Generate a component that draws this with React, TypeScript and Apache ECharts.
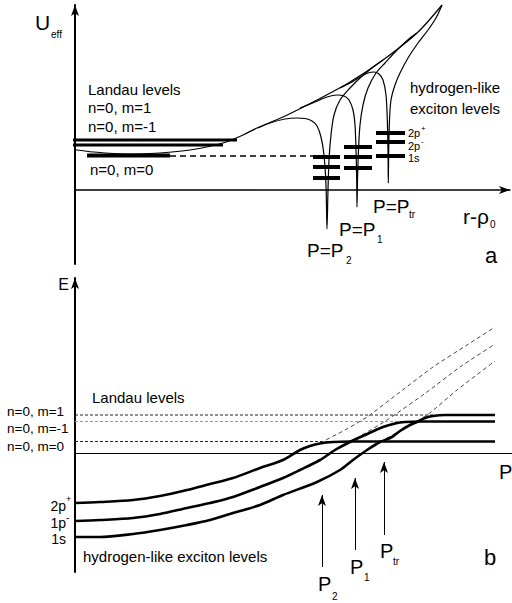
import React, { useEffect, useRef } from "react";
import * as echarts from "echarts";

type P = [number, number];

// ---------- Panel a : effective potential U_eff(r - rho0) ----------
const envelope: P[] = [
  [-5.5, 5.2], [-3.0, 4.6], [0.2, 4.0], [3.0, 3.7], [5.5, 3.6], [8.5, 3.7], [11.5, 4.0],
  [14.8, 4.7], [16.8, 5.5], [18.2, 6.2], [20.8, 7.3], [24.2, 9.0], [27.5, 10.8],
  [30.8, 13.0], [34.2, 15.7], [36.7, 18.5],
];
const curveP2: P[] = [
  [18.3, 6.2], [19.5, 6.7], [21.0, 7.1], [22.2, 7.2], [23.0, 7.15], [23.7, 6.9], [24.2, 6.4],
  [24.6, 5.3], [24.9, 3.5], [25.1, 0.5], [25.2, -3.9], [25.3, 0.0], [25.4, 3.0], [25.6, 5.5],
  [25.9, 7.5], [26.5, 9.0], [27.5, 10.2], [28.5, 11.2], [29.7, 12.2], [30.8, 13.0],
];
const curveP1: P[] = [
  [22.5, 8.2], [24.0, 8.8], [25.2, 9.3], [26.2, 9.5], [26.9, 9.4], [27.4, 9.0], [27.8, 8.0],
  [28.0, 6.5], [28.1, 4.0], [28.17, 1.0], [28.2, -1.7], [28.25, 1.0], [28.35, 4.0], [28.5, 6.5],
  [28.8, 8.5], [29.3, 10.2], [30.1, 11.7], [31.0, 12.7], [32.2, 14.0], [33.5, 15.2], [34.2, 15.7],
];
const curvePtr: P[] = [
  [26.5, 10.2], [27.5, 10.7], [28.5, 11.3], [29.3, 11.7], [29.9, 11.8], [30.4, 11.6], [30.8, 11.0],
  [31.1, 9.5], [31.23, 7.0], [31.3, 4.0], [31.33, 0.7], [31.37, 4.0], [31.45, 7.0], [31.6, 9.0],
  [32.0, 10.5], [32.5, 11.7], [33.3, 13.2], [34.3, 14.7], [35.3, 16.0], [36.1, 17.2], [36.7, 18.5],
];
// Landau levels (thick bars) : [level, from, to]
const landauBarsA: [number, number, number][] = [
  [5.0, -5.5, 16.2],
  [4.5, -4.0, 14.8],
  [3.45, 1.2, 9.5],
];
const landauDashA: P[] = [[9.5, 3.4], [23.8, 3.4]];
// exciton levels in each well: [x from, x to, levels]
const excitonWells: { x0: number; x1: number; levels: number[] }[] = [
  { x0: 23.8, x1: 26.5, levels: [3.3, 2.3, 1.2] },
  { x0: 26.9, x1: 29.7, levels: [4.3, 3.3, 2.2] },
  { x0: 30.1, x1: 33.0, levels: [5.7, 4.8, 3.4] },
];

// ---------- Panel b : energies E(P) ----------
const level2pPlus: P[] = [
  [0, -5.0], [2.5, -4.9], [5.8, -4.7], [8.5, -4.3], [11.2, -3.7], [13.5, -3.1], [15.8, -2.5],
  [18.5, -1.5], [20.8, -0.7], [22.5, 0.3], [23.5, 0.7], [24.5, 0.95], [25.8, 1.1], [27.5, 1.15],
  [42.0, 1.15],
];
const level1pMinus: P[] = [
  [0, -6.8], [2.5, -6.7], [5.8, -6.5], [8.5, -6.1], [11.2, -5.5], [13.5, -5.0], [15.8, -4.4],
  [18.5, -3.4], [20.8, -2.5], [22.5, -1.7], [24.5, -0.7], [26.0, 0.3], [27.5, 1.1], [29.0, 1.8],
  [30.8, 2.6], [32.0, 2.95], [33.0, 3.1], [34.5, 3.15], [42.0, 3.15],
];
const level1s: P[] = [
  [0, -8.4], [2.5, -8.4], [5.8, -8.1], [8.5, -7.7], [11.2, -7.2], [13.5, -6.7], [15.8, -6.0],
  [18.5, -5.2], [20.8, -4.2], [24.2, -2.9], [26.5, -1.7], [27.8, -0.7], [29.2, 0.3], [30.5, 1.1],
  [31.7, 1.6], [32.5, 2.2], [33.5, 2.8], [34.2, 3.1], [35.0, 3.5], [35.8, 3.7], [37.0, 3.8],
  [42.0, 3.8],
];
const diabatic1: P[] = [[24.5, 1.0], [27.0, 2.3], [29.2, 3.6], [32.5, 6.1], [35.8, 8.6], [39.2, 10.8], [42.0, 12.6]];
const diabatic2: P[] = [[27.5, 1.1], [31.2, 3.3], [35.2, 6.1], [38.5, 8.6], [42.0, 10.9]];
const diabatic3: P[] = [[30.5, 1.1], [35.2, 3.8], [38.2, 6.3], [42.0, 9.2]];
// Landau levels n=0: m=1, m=-1, m=0 : [level, extends to]
const landauB: [number, number][] = [[3.8, 36.0], [3.15, 34.5], [1.15, 27.0]];
// momentum markers P2, P1, Ptr : [P, from, to]
const momentumArrows: [number, number, number][] = [
  [24.7, -11.4, -4.2],
  [28.0, -9.7, -2.5],
  [30.9, -8.2, -0.9],
];

const FONT = "'Liberation Sans', Arial, Helvetica, sans-serif";

function line(data: P[], g: number, width: number, color = "#000", type: any = "solid", smooth: number | boolean = 0.3) {
  return {
    type: "line",
    data,
    xAxisIndex: g,
    yAxisIndex: g,
    showSymbol: false,
    symbol: "none",
    clip: false,
    silent: true,
    smooth,
    lineStyle: { width, color, type },
    z: 3,
  };
}

function T(text: string, x: number, y: number, size: number, align = "left") {
  return {
    type: "text",
    x,
    y,
    silent: true,
    style: {
      text,
      fontSize: size,
      fontFamily: FONT,
      fill: "#000",
      align,
      verticalAlign: "middle",
      textAlign: align,
      textVerticalAlign: "middle",
    },
  };
}

function buildOption() {
  const series: any[] = [];
  // panel a
  series.push(line(envelope, 0, 1.2));
  series.push(line(curveP2, 0, 1.2));
  series.push(line(curveP1, 0, 1.2));
  series.push(line(curvePtr, 0, 1.2));
  landauBarsA.forEach(([y, a, b], i) =>
    series.push(line([[a, y], [b, y]], 0, i === 2 ? 4 : 3, "#000", "solid", false))
  );
  series.push(line(landauDashA, 0, 1.5, "#000", [6, 4], false));
  excitonWells.forEach((w) =>
    w.levels.forEach((y) => series.push(line([[w.x0, y], [w.x1, y]], 0, 4, "#000", "solid", false)))
  );
  // panel b
  series.push(line([[0, landauB[0][0]], [landauB[0][1], landauB[0][0]]], 1, 1, "#222", [3, 2], false));
  series.push(line([[0, landauB[1][0]], [landauB[1][1], landauB[1][0]]], 1, 1, "#999", [3, 2], false));
  series.push(line([[0, landauB[2][0]], [landauB[2][1], landauB[2][0]]], 1, 1, "#222", [3, 2], false));
  series.push(line(diabatic1, 1, 1, "#444", [4, 3], 0.2));
  series.push(line(diabatic2, 1, 1, "#444", [4, 3], 0.2));
  series.push(line(diabatic3, 1, 1, "#444", [4, 3], 0.2));
  series.push(line(level2pPlus, 1, 2.6, "#000", "solid", 0.3));
  series.push(line(level1pMinus, 1, 2.6, "#000", "solid", 0.3));
  series.push(line(level1s, 1, 2.6, "#000", "solid", 0.3));
  series.push({
    type: "line",
    data: [],
    xAxisIndex: 1,
    yAxisIndex: 1,
    silent: true,
    markLine: {
      silent: true,
      symbol: ["none", "arrow"],
      symbolSize: [6, 11],
      label: { show: false },
      lineStyle: { color: "#000", width: 1, type: "solid" },
      emphasis: { disabled: true },
      data: momentumArrows.map(([x, y0, y1]) => [{ coord: [x, y0] }, { coord: [x, y1] }]),
    },
  });

  const axisCommon = {
    type: "value",
    splitLine: { show: false },
    axisTick: { show: false },
    axisLabel: { show: false },
  };

  return {
    animation: false,
    backgroundColor: "#fff",
    grid: [
      { left: 75, top: 5, width: 435, height: 259 },
      { left: 75, top: 278, width: 437, height: 294 },
    ],
    xAxis: [
      {
        ...axisCommon,
        gridIndex: 0,
        min: 0,
        max: 43.5,
        axisLine: { onZero: true, lineStyle: { color: "#000", width: 1.5 }, symbol: ["none", "arrow"], symbolSize: [6, 11] },
      },
      {
        ...axisCommon,
        gridIndex: 1,
        min: 0,
        max: 43.7,
        axisLine: { onZero: true, lineStyle: { color: "#000", width: 1 } },
      },
    ],
    yAxis: [
      {
        ...axisCommon,
        gridIndex: 0,
        min: -7.4,
        max: 18.5,
        axisLine: { onZero: true, lineStyle: { color: "#000", width: 2 }, symbol: ["none", "arrow"], symbolSize: [6, 11] },
      },
      {
        ...axisCommon,
        gridIndex: 1,
        min: -11.9,
        max: 17.5,
        axisLine: { onZero: true, lineStyle: { color: "#000", width: 2 }, symbol: ["none", "arrow"], symbolSize: [6, 11] },
      },
    ],
    series,
    graphic: [
      // panel a
      T("U", 35, 22, 21),
      T("eff", 51, 34, 10),
      T("Landau levels", 88, 89, 15),
      T("n=0, m=1", 88, 107, 15),
      T("n=0, m=-1", 88, 126, 15),
      T("n=0, m=0", 90, 169, 15),
      T("hydrogen-like", 410, 87, 15),
      T("exciton levels", 410, 108, 15),
      T("2p", 408, 133, 11),
      T("+", 421, 128, 8),
      T("2p", 408, 145.5, 11),
      T("-", 421, 141, 8),
      T("1s", 408, 158, 11),
      T("P=P", 373, 206, 19),
      T("tr", 409, 214, 10),
      T("P=P", 339, 229, 19),
      T("1", 377, 239, 10),
      T("P=P", 307, 250, 19),
      T("2", 346, 260, 10),
      T("r-ρ", 463, 216, 21),
      T("0", 490, 224, 10),
      T("a", 485, 255, 22),
      // panel b
      T("E", 69, 284, 16, "right"),
      T("Landau levels", 92, 397, 15),
      T("n=0, m=1", 7, 411, 13.5),
      T("n=0, m=-1", 7, 428, 13.5),
      T("n=0, m=0", 7, 446, 13.5),
      T("2p", 66, 506, 14, "right"),
      T("+", 66, 499, 9),
      T("1p", 66, 523, 14, "right"),
      T("-", 66, 517, 10),
      T("1s", 66, 539, 14, "right"),
      T("hydrogen-like exciton levels", 83, 556, 15),
      T("P", 499, 472, 20),
      T("P", 318, 584, 20),
      T("2", 332, 596, 10),
      T("P", 350, 567, 20),
      T("1", 364, 577, 10),
      T("P", 380, 551, 20),
      T("tr", 393, 561, 10),
      T("b", 484, 557, 22),
    ],
  };
}

export default function App() {
  const ref = useRef<HTMLDivElement>(null);
  useEffect(() => {
    if (!ref.current) return;
    const chart = echarts.init(ref.current, null, { renderer: "svg" });
    chart.setOption(buildOption() as any);
    return () => chart.dispose();
  }, []);
  return (
    <div
      ref={ref}
      style={{ position: "fixed", left: 0, top: 0, width: 512, height: 603, background: "#fff" }}
    />
  );
}
